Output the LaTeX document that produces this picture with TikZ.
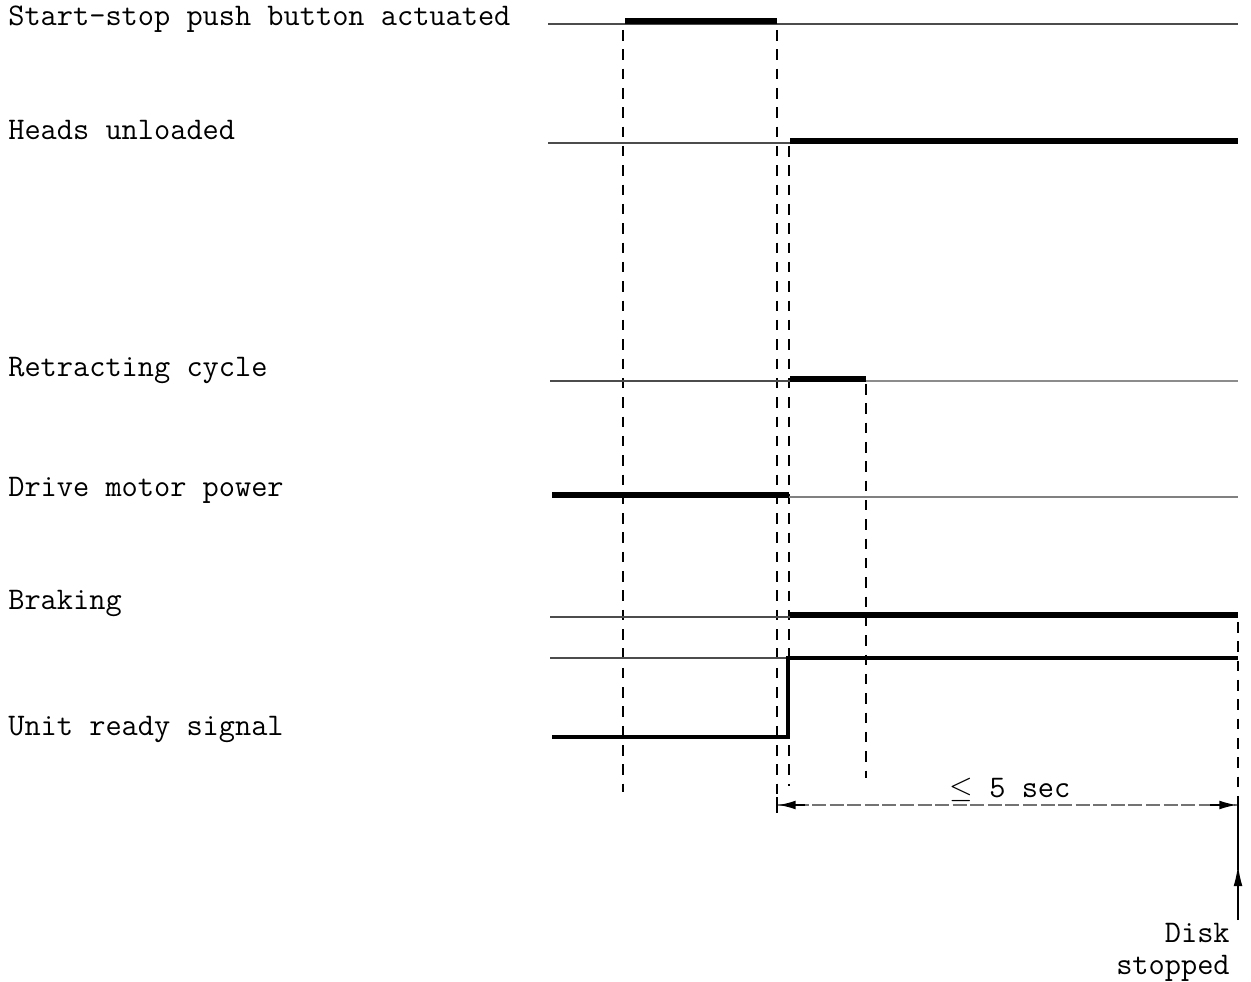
\documentclass[tikz,border=0pt]{standalone}
\usepackage{fontspec}
\usetikzlibrary{arrows.meta}
\begin{document}
\begin{tikzpicture}[x=0.02cm,y=-0.02cm,
  tw/.style={font=\ttfamily\fontsize{17.9}{21}\selectfont},
  lbl/.style={tw,anchor=base west,inner sep=0pt},
  thin line/.style={line width=0.7pt,black!70},
  thick line/.style={line width=3pt,black},
  mid line/.style={line width=1.8pt,black},
  guide/.style={line width=0.9pt,black,dash pattern=on 6pt off 5pt}]
\useasboundingbox (0,0) rectangle (1251,982);
% labels
\node[lbl] (l1) at (8,26) {Start-stop push button actuated};
\node[lbl] (l2) at (8,140) {Heads unloaded};
\node[lbl] (l3) at (8,377) {Retracting cycle};
\node[lbl] (l4) at (8,497) {Drive motor power};
\node[lbl] (l5) at (8,610) {Braking};
\node[lbl] (l6) at (8,736) {Unit ready signal};
% dashed verticals
\draw[guide] (623,30) -- (623,792);
\draw[guide] (777,30) -- (777,812);
\draw[guide] (789,146) -- (789,786);
\draw[guide] (866,384) -- (866,778);
\draw[guide] (1238,622) -- (1238,805);
% start-stop
\draw[thin line] (548,24) -- (1238,24);
\draw[thick line] (625,21) -- (777,21);
% heads unloaded
\draw[thin line] (548,143) -- (790,143);
\draw[thick line] (790,141) -- (1238,141);
% retracting
\draw[thin line] (550,381) -- (790,381);
\draw[thin line,black!45] (866,381) -- (1238,381);
\draw[thick line] (790,379) -- (866,379);
% drive motor
\draw[thick line] (552,495) -- (789,495);
\draw[thin line,black!50] (789,497) -- (1238,497);
% braking
\draw[thin line] (550,617) -- (790,617);
\draw[thick line] (790,615) -- (1238,615);
% unit ready
\draw[thin line] (550,658) -- (788,658);
\draw[mid line,line join=miter] (552,737) -- (788,737) -- (788,658) -- (1238,658);
% dimension
\draw[line width=0.6pt,black!55,dash pattern=on 8pt off 2pt]
  (777,805) -- (1238,805);
\draw[line width=1pt] (777,797) -- (777,813) (1238,797) -- (1238,813);
\draw[line width=1pt,-{Latex[length=10pt,width=5pt]}] (805,805) -- (778,805);
\draw[line width=1pt,-{Latex[length=10pt,width=5pt]}] (1210,805) -- (1237,805);
\node[tw,inner sep=1pt] (dim) at (1010,790) {$\leq$ 5 sec};
% disk stopped arrow
\coordinate (ds) at (1238,920);
\draw[line width=1pt,-{Latex[length=12pt,width=5pt]}] (ds) -- (1238,865);
\draw[line width=1pt] (1238,870) -- (1238,805);
\node[tw,anchor=base east,inner sep=0pt] (disk) at (1230,942) {Disk};
\node[tw,anchor=base east,inner sep=0pt] (stop) at (1230,974) {stopped};
\end{tikzpicture}
\end{document}
